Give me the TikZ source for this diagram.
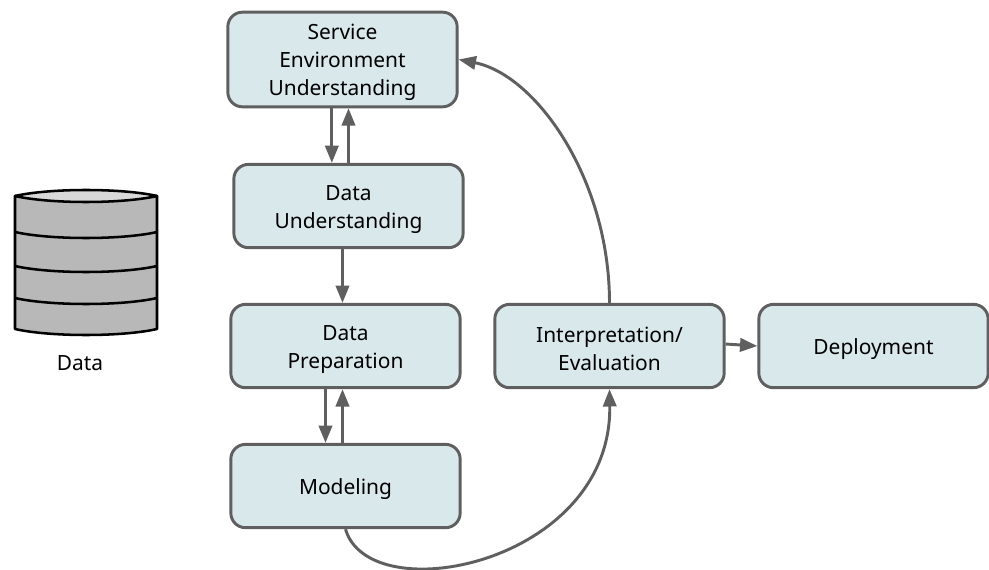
\documentclass[tikz,border=0pt]{standalone}
\usepackage{fontspec}
\setmainfont{Noto Sans}
\usetikzlibrary{arrows.meta}
\definecolor{boxfill}{HTML}{D9E8EB}
\definecolor{boxline}{HTML}{5F5F5F}
\definecolor{dbside}{HTML}{B8B8B8}
\definecolor{dbtop}{HTML}{D8D8D8}
\newcommand{\tstrut}{\rule{0pt}{16.5pt}}
\begin{document}
\begin{tikzpicture}[x=0.75pt, y=-0.75pt, node distance=105pt]
    \tikzset{
    block/.style={
        rectangle,
        draw=boxline,
        fill=boxfill,
        line width=2.2pt,
        rounded corners=11pt,
        minimum width=172pt,
        minimum height=62.5pt,
        align=center,
        font=\fontsize{15.7}{21}\selectfont
    },
    arrow/.style={
        -{Triangle[length=13pt,width=10pt]}, draw=boxline, line width=2.2pt
    }
}
    \useasboundingbox (0,0) rectangle (989,570);

    \node[block, minimum height=71pt] (service) at (342.5,59.5) {\tstrut Service\\Environment\\Understanding};
    \node[block, below of = service, xshift=4.5pt, yshift=-4.9pt] (understanding) {\tstrut Data\\Understanding};
    \node[block, below of = understanding, xshift=-2.25pt] (preparation) {\tstrut Data\\Preparation};
    \node[block, below of = preparation] (modeling) {\tstrut Modeling};
    \node[block, right of = preparation, xshift=93pt] (evaluation) {\tstrut Interpretation/\\Evaluation};
    \node[block, right of = evaluation, xshift=93pt] (deployment) {\tstrut Deployment};

    % Data store
    \draw[line width=1.9pt, line join=round, fill=dbside] (15,196) -- (15,329) .. controls (50,337) and (122,337) .. (157,329) -- (157,196) -- cycle;
    \draw[line width=1.9pt, line join=round, fill=dbtop] (15,196) .. controls (50,188) and (122,188) .. (157,196) .. controls (122,204) and (50,204) .. (15,196) -- cycle;
    \foreach \y in {232,266,298} {
        \draw[line width=1.9pt] (15,\y) .. controls (50,\y+8) and (122,\y+8) .. (157,\y);
    }
    \node[font=\fontsize{15.7}{21}\selectfont] (data) at (80,363) {Data};

    % Arrows
    \draw[arrow] ([xshift=-8pt]service.south) -- ([xshift=-12.5pt]understanding.north);
    \draw[arrow] ([xshift=-0pt]understanding.north) -- ([xshift=4.5pt]service.south);
    \draw[arrow] ([xshift=-4.5pt]understanding.south) -- ([xshift=-2.25pt]preparation.north);
    \draw[arrow] ([xshift=-15pt]preparation.south) -- ([xshift=-15pt]modeling.north);
    \draw[arrow] ([xshift=-2.25pt]modeling.north) -- ([xshift=-2.25pt]preparation.south);
    \draw[arrow] ([yshift=1.5pt]evaluation.east) -- (deployment.west);
    \draw[arrow] (evaluation.north) .. controls +(0,93pt) and +(58pt,-11.5pt) .. (service.east);
    \draw[arrow] (modeling.south) .. controls +(18pt,-62pt) and +(2pt,-131pt) .. (evaluation.south);
\end{tikzpicture}
\end{document}
